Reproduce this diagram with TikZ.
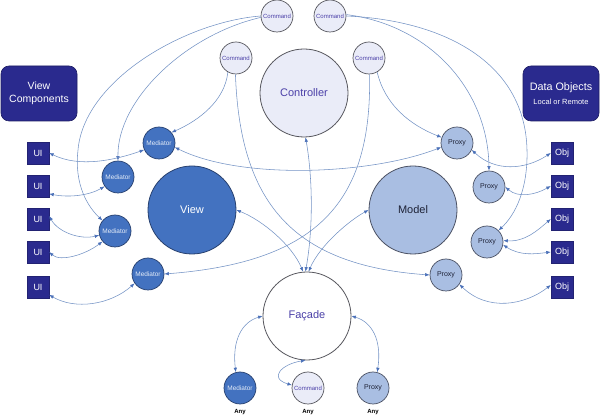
\documentclass[tikz,border=0pt]{standalone}
\usepackage{fontspec}
\setmainfont{Liberation Sans}
\usetikzlibrary{arrows.meta}
\definecolor{navy}{HTML}{2A2A8E}
\definecolor{medblue}{HTML}{4372C0}
\definecolor{meddark}{HTML}{27406E}
\definecolor{medtext}{HTML}{E4ECF8}
\definecolor{proxblue}{HTML}{A9BEE2}
\definecolor{proxdark}{HTML}{4A5062}
\definecolor{proxtext}{HTML}{1E2236}
\definecolor{cmdfill}{HTML}{EAECF8}
\definecolor{linkc}{HTML}{7392C4}
\definecolor{tipc}{HTML}{4A70B8}
\definecolor{purp}{HTML}{4B40A8}
\definecolor{rim}{HTML}{55555C}
\begin{document}
\begin{tikzpicture}[x=1pt,y=-1pt,
 small/.style={circle,draw=rim,line width=0.7pt,inner sep=0pt,minimum size=32pt},
 big/.style={circle,draw=rim,line width=0.8pt,inner sep=0pt,minimum size=88pt,font=\fontsize{11}{13}\selectfont},
 cmdn/.style={small,fill=cmdfill,text=purp,font=\fontsize{6}{7}\selectfont},
 medn/.style={small,fill=medblue,draw=meddark,text=medtext,font=\fontsize{6.5}{7}\selectfont},
 proxn/.style={small,fill=proxblue,draw=proxdark,text=proxtext,font=\fontsize{7}{8}\selectfont},
 navybox/.style={rectangle,fill=navy,draw=navy!80!black,line width=0.4pt,text=white,inner sep=0pt,minimum size=22pt,font=\fontsize{9}{10}\selectfont},
 headbox/.style={rectangle,rounded corners=8pt,fill=navy,draw=navy!70!black,line width=0.6pt,text=white,minimum width=76pt,minimum height=55pt,inner sep=0pt,align=center},
 anyl/.style={font=\bfseries\fontsize{6}{7}\selectfont,text=black},
 lk/.style={draw=linkc,line width=0.55pt,-{Latex[length=4.5pt,width=3.5pt,color=tipc]}},
 dlk/.style={draw=linkc,line width=0.55pt,{Latex[length=4.5pt,width=3.5pt,color=tipc]}-{Latex[length=4.5pt,width=3.5pt,color=tipc]}},
]
\useasboundingbox (0,0) rectangle (600,419);

% headers
\node[headbox,font=\fontsize{10.5}{12.7}\selectfont] (vc) at (39,93.5) {View\\Components};
\node[headbox,font=\fontsize{10.8}{13}\selectfont] (do) at (561,93.5) {Data Objects\\[1pt]{\fontsize{7.5}{9}\selectfont Local or Remote}};

% commands and controller
\node[cmdn] (cmdA) at (277,16) {Command};
\node[cmdn] (cmdB) at (330,16) {Command};
\node[cmdn] (cmdC) at (236,58) {Command};
\node[cmdn] (cmdD) at (369,58) {Command};
\node[big,fill=cmdfill,text=purp] (ctrl) at (304,93) {Controller};

% view side
\node[big,fill=medblue,draw=meddark,text=white] (view) at (192,210) {View};
\node[medn] (M1) at (159,143) {Mediator};
\node[medn] (M2) at (118,177) {Mediator};
\node[medn] (M3) at (115,231) {Mediator};
\node[medn] (M4) at (148,274) {Mediator};

% model side
\node[big,fill=proxblue,draw=proxdark,text=proxtext] (model) at (413,210) {Model};
\node[proxn] (P1) at (457,143) {Proxy};
\node[proxn] (P2) at (489,187) {Proxy};
\node[proxn] (P3) at (487,242) {Proxy};
\node[proxn] (P4) at (446,275) {Proxy};

% facade
\node[big,fill=white,text=purp] (fac) at (307,316) {Façade};
\node[medn] (bM) at (240,388) {Mediator};
\node[cmdn] (bC) at (308,388) {Command};
\node[proxn] (bP) at (373,388) {Proxy};
\node[anyl] (any1) at (240,412) {Any};
\node[anyl] (any2) at (308,412) {Any};
\node[anyl] (any3) at (373,412) {Any};

% UI and Obj
\node[navybox] (ui1) at (38,153) {UI};
\node[navybox] (ui2) at (38,186) {UI};
\node[navybox] (ui3) at (38,219) {UI};
\node[navybox] (ui4) at (38,252) {UI};
\node[navybox] (ui5) at (38,287) {UI};
\node[navybox] (obj1) at (562,153) {Obj};
\node[navybox] (obj2) at (562,186) {Obj};
\node[navybox] (obj3) at (562,219) {Obj};
\node[navybox] (obj4) at (562,252) {Obj};
\node[navybox] (obj5) at (562,287) {Obj};

% command connectors
\draw[lk] (cmdA.185) .. controls (185,35) and (117,100) .. (M2.north);
\draw[lk] (cmdA.180) .. controls (185,22) and (84,80) .. (78,150) .. controls (74,185) and (88,207) .. (M3.140);
\draw[lk] (cmdC.240) .. controls (225,100) and (200,120) .. (M1.40);
\draw[lk] (cmdC.268) .. controls (240,200) and (290,265) .. (P4.west);
\draw[lk] (cmdD.272) .. controls (372,200) and (320,262) .. (M4.east);
\draw[lk] (cmdD.300) .. controls (385,105) and (410,125) .. (P1.160);
\draw[lk] (cmdB.5) .. controls (430,25) and (488,90) .. (P2.north);
\draw[lk] (cmdB.0) .. controls (440,20) and (525,60) .. (527,150) .. controls (528,190) and (515,215) .. (P3.45);

% mediator - proxy
\draw[dlk] (M1.-15) .. controls (240,180) and (370,175) .. (P1.195);

% UI links
\draw[dlk] (ui1.east) .. controls (80,168) and (115,160) .. (M1.205);
\draw[dlk] (ui2.-35) .. controls (70,198) and (90,195) .. (M2.215);
\draw[dlk] (ui3.15) .. controls (58,232) and (80,240) .. (M3.195);
\draw[dlk] (ui4.east) .. controls (60,262) and (85,255) .. (M3.220);
\draw[dlk] (ui5.-35) .. controls (75,310) and (110,305) .. (M4.215);

% Obj links
\draw[dlk] (P1.-25) .. controls (495,172) and (525,170) .. (obj1.west);
\draw[dlk] (P2.east) .. controls (518,198) and (535,195) .. (obj2.west);
\draw[dlk] (P3.5) .. controls (525,242) and (538,230) .. (obj3.west);
\draw[dlk] (P3.-10) .. controls (520,256) and (535,254) .. (obj4.west);
\draw[dlk] (P4.-35) .. controls (488,312) and (525,305) .. (obj5.170);

% facade links
\draw[dlk] (ctrl.272) .. controls (313,180) and (313,230) .. (fac.92);
\draw[dlk] (view.east) .. controls (262,220) and (292,245) .. (fac.95);
\draw[dlk] (model.west) .. controls (350,220) and (320,245) .. (fac.88);
\draw[dlk] (fac.180) .. controls (242,322) and (232,340) .. (bM.105);
\draw[dlk] (fac.0) .. controls (372,322) and (382,340) .. (bP.75);
\draw[dlk] (fac.268) .. controls (282,364) and (268,378) .. (bC.170);
\end{tikzpicture}
\end{document}
